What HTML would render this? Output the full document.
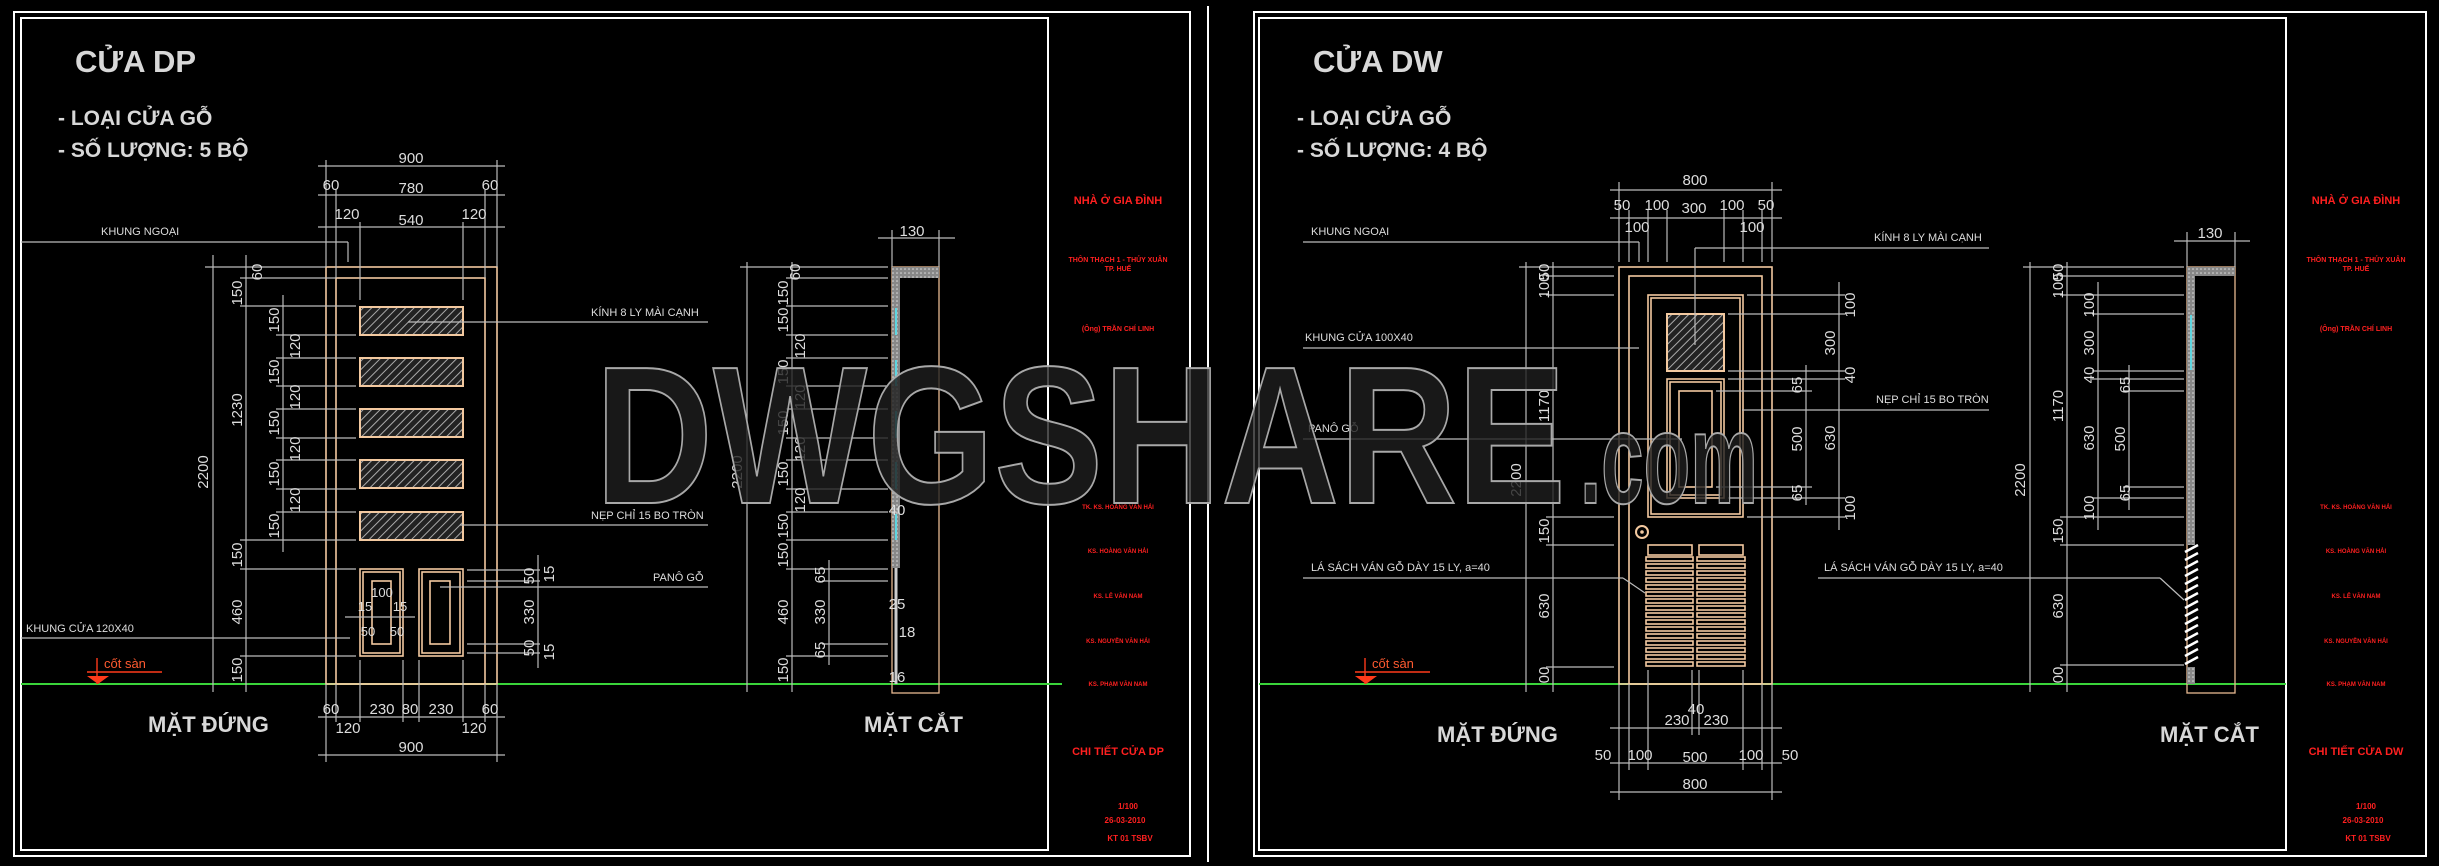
<!DOCTYPE html>
<html><head><meta charset="utf-8"><style>
html,body{margin:0;padding:0;background:#000;}
svg{display:block;}
.f{fill:none;stroke:#fff;stroke-width:2}
.d{stroke:#bbb;stroke-width:1.2;fill:none}
.w{fill:none;stroke:#f3c9a0;stroke-width:1.6}
.t{font-family:"Liberation Sans",sans-serif;fill:#ddd;font-size:15px}
.s{font-family:"Liberation Sans",sans-serif;fill:#ddd;font-size:11px}
.h{font-family:"Liberation Sans","Noto Sans CJK SC",sans-serif;fill:#d8d8d8;font-weight:bold}
.r{font-family:"Liberation Sans",sans-serif;fill:#ff2020;font-weight:bold;text-anchor:middle}
.g{stroke:#3ad43a;stroke-width:2}
</style></head><body>
<svg width="2439" height="866" viewBox="0 0 2439 866" xmlns="http://www.w3.org/2000/svg">
<defs>
<pattern id="hp" width="6" height="6" patternUnits="userSpaceOnUse" patternTransform="rotate(45)"><rect width="6" height="6" fill="#222"/><line x1="0" y1="0" x2="0" y2="6" stroke="#aaa" stroke-width="2"/></pattern>
<pattern id="sp" width="4" height="4" patternUnits="userSpaceOnUse"><rect width="4" height="4" fill="#888"/><circle cx="1" cy="1" r="0.8" fill="#ddd"/></pattern>
</defs>
<rect width="2439" height="866" fill="#000"/>
<!-- LEFT PANEL frames -->
<rect class="f" x="14" y="12" width="1176" height="844"/>
<rect class="f" x="21" y="18" width="1027" height="832" stroke-width="1.5"/>
<line class="f" x1="1208" y1="6" x2="1208" y2="862"/>
<line class="g" x1="21" y1="684" x2="1062" y2="684"/>
<text class="h" x="75" y="72" font-size="31">CỬA DP</text>
<text class="h" x="58" y="125" font-size="21">- LOẠI CỬA GỖ</text>
<text class="h" x="58" y="157" font-size="21">- SỐ LƯỢNG: 5 BỘ</text>
<text class="h" x="148" y="732" font-size="22">MẶT ĐỨNG</text>
<text class="h" x="864" y="732" font-size="22">MẶT CẮT</text>
<!-- door DP -->
<rect class="w" x="326" y="267" width="171" height="417"/>
<rect class="w" x="336" y="278" width="149" height="406"/>
<g>
<rect x="360" y="307" width="103" height="28" fill="url(#hp)" stroke="#f3c9a0" stroke-width="2"/>
<rect x="360" y="358" width="103" height="28" fill="url(#hp)" stroke="#f3c9a0" stroke-width="2"/>
<rect x="360" y="409" width="103" height="28" fill="url(#hp)" stroke="#f3c9a0" stroke-width="2"/>
<rect x="360" y="460" width="103" height="28" fill="url(#hp)" stroke="#f3c9a0" stroke-width="2"/>
<rect x="360" y="512" width="103" height="28" fill="url(#hp)" stroke="#f3c9a0" stroke-width="2"/>
</g>
<rect class="w" x="360" y="569" width="43" height="87"/><rect class="w" x="363" y="572" width="37" height="81"/><rect class="w" x="372" y="581" width="19" height="63"/>
<rect class="w" x="419" y="569" width="44" height="87"/><rect class="w" x="422" y="572" width="38" height="81"/><rect class="w" x="430" y="581" width="20" height="63"/>
<!-- top dims DP -->
<g class="d">
<line x1="318" y1="166" x2="505" y2="166"/><line x1="318" y1="195" x2="505" y2="195"/><line x1="318" y1="227" x2="505" y2="227"/>
<line x1="326" y1="160" x2="326" y2="267"/><line x1="497" y1="160" x2="497" y2="267"/>
<line x1="336" y1="190" x2="336" y2="278"/><line x1="485" y1="190" x2="485" y2="278"/>
<line x1="360" y1="222" x2="360" y2="300"/><line x1="463" y1="222" x2="463" y2="300"/>
<line x1="318" y1="717" x2="505" y2="717"/><line x1="318" y1="755" x2="505" y2="755"/>
<line x1="326" y1="684" x2="326" y2="762"/><line x1="497" y1="684" x2="497" y2="762"/>
<line x1="336" y1="684" x2="336" y2="722"/><line x1="485" y1="684" x2="485" y2="722"/>
<line x1="360" y1="660" x2="360" y2="722"/><line x1="403" y1="660" x2="403" y2="722"/><line x1="419" y1="660" x2="419" y2="722"/><line x1="463" y1="660" x2="463" y2="722"/>
<line x1="213" y1="255" x2="213" y2="692"/><line x1="246" y1="255" x2="246" y2="692"/><line x1="283" y1="295" x2="283" y2="552"/>
<line x1="205" y1="267" x2="326" y2="267"/><line x1="240" y1="278" x2="336" y2="278"/>
<line x1="240" y1="306" x2="356" y2="306"/><line x1="276" y1="335" x2="356" y2="335"/><line x1="276" y1="358" x2="356" y2="358"/><line x1="276" y1="386" x2="356" y2="386"/><line x1="276" y1="409" x2="356" y2="409"/><line x1="276" y1="438" x2="356" y2="438"/><line x1="276" y1="460" x2="356" y2="460"/><line x1="276" y1="489" x2="356" y2="489"/><line x1="276" y1="512" x2="356" y2="512"/><line x1="240" y1="540" x2="356" y2="540"/>
<line x1="240" y1="569" x2="356" y2="569"/><line x1="240" y1="656" x2="356" y2="656"/>
<line x1="21" y1="242" x2="348" y2="242"/><line x1="348" y1="242" x2="348" y2="262"/>
<line x1="21" y1="638" x2="350" y2="638"/>
<line x1="408" y1="322" x2="708" y2="322"/>
<line x1="460" y1="525" x2="708" y2="525"/>
<line x1="440" y1="587" x2="708" y2="587"/>
<line x1="467" y1="570" x2="540" y2="570"/><line x1="467" y1="581" x2="540" y2="581"/><line x1="467" y1="644" x2="540" y2="644"/><line x1="467" y1="653" x2="540" y2="653"/>
<line x1="538" y1="555" x2="538" y2="668"/>
<line x1="345" y1="617" x2="415" y2="617"/>
</g>
<g class="t" text-anchor="middle">
<text x="411" y="163">900</text><text x="331" y="190">60</text><text x="411" y="193">780</text><text x="490" y="190">60</text>
<text x="347" y="219">120</text><text x="411" y="225">540</text><text x="474" y="219">120</text>
<text x="331" y="714">60</text><text x="382" y="714">230</text><text x="410" y="714">80</text><text x="441" y="714">230</text><text x="490" y="714">60</text>
<text x="348" y="733">120</text><text x="474" y="733">120</text><text x="411" y="752">900</text>
<text x="382" y="597" font-size="13">100</text><text x="365" y="611" font-size="13">15</text><text x="400" y="611" font-size="13">15</text><text x="368" y="636" font-size="13">50</text><text x="397" y="636" font-size="13">50</text>
</g>
<g class="t" text-anchor="middle">
<text transform="translate(208,472) rotate(-90)">2200</text>
<text transform="translate(242,410) rotate(-90)">1230</text>
<text transform="translate(242,293) rotate(-90)">150</text><text transform="translate(262,272) rotate(-90)">60</text>
<text transform="translate(242,555) rotate(-90)">150</text><text transform="translate(242,612) rotate(-90)">460</text><text transform="translate(242,670) rotate(-90)">150</text>
<text transform="translate(279,320) rotate(-90)">150</text><text transform="translate(300,346) rotate(-90)">120</text>
<text transform="translate(279,372) rotate(-90)">150</text><text transform="translate(300,397) rotate(-90)">120</text>
<text transform="translate(279,423) rotate(-90)">150</text><text transform="translate(300,449) rotate(-90)">120</text>
<text transform="translate(279,474) rotate(-90)">150</text><text transform="translate(300,500) rotate(-90)">120</text>
<text transform="translate(279,526) rotate(-90)">150</text>
<text transform="translate(534,576) rotate(-90)">50</text><text transform="translate(554,574) rotate(-90)">15</text>
<text transform="translate(534,612) rotate(-90)">330</text>
<text transform="translate(534,648) rotate(-90)">50</text><text transform="translate(554,652) rotate(-90)">15</text>
</g>
<g class="s">
<text x="101" y="235">KHUNG NGOẠI</text><text x="26" y="632">KHUNG CỬA 120X40</text>
<text x="591" y="316">KÍNH 8 LY MÀI CẠNH</text><text x="591" y="519">NẸP CHỈ 15 BO TRÒN</text><text x="653" y="581">PANÔ GỖ</text>
</g>
<g stroke="#ff3a1a" fill="none" stroke-width="1.4"><line x1="87" y1="672" x2="162" y2="672"/><line x1="97" y1="658" x2="97" y2="684"/></g>
<polygon points="87,676 109,676 98,684" fill="#ff3a1a"/>
<text x="104" y="668" font-family="Liberation Sans,sans-serif" font-size="13" fill="#ff5a30">cốt sàn</text>
<rect x="892" y="267" width="47" height="426" fill="none" stroke="#e8b890" stroke-width="1.3"/>
<rect x="892" y="267" width="47" height="11" fill="url(#sp)"/>
<rect x="892" y="278" width="8" height="290" fill="url(#sp)"/>
<g stroke="#5fd6e0" stroke-width="2"><line x1="896" y1="308" x2="896" y2="335"/><line x1="896" y1="360" x2="896" y2="386"/><line x1="896" y1="411" x2="896" y2="438"/><line x1="896" y1="462" x2="896" y2="489"/><line x1="896" y1="514" x2="896" y2="540"/></g>
<line x1="896" y1="568" x2="896" y2="684" stroke="#ccc" stroke-width="3"/>
<g class="d">
<line x1="878" y1="238" x2="955" y2="238"/><line x1="892" y1="230" x2="892" y2="267"/><line x1="939" y1="230" x2="939" y2="267"/>
<line x1="747" y1="262" x2="747" y2="692"/><line x1="792" y1="262" x2="792" y2="692"/><line x1="829" y1="560" x2="829" y2="665"/>
<line x1="740" y1="267" x2="888" y2="267"/><line x1="786" y1="278" x2="888" y2="278"/><line x1="786" y1="306" x2="888" y2="306"/><line x1="786" y1="335" x2="888" y2="335"/><line x1="786" y1="358" x2="888" y2="358"/><line x1="786" y1="386" x2="888" y2="386"/><line x1="786" y1="409" x2="888" y2="409"/><line x1="786" y1="438" x2="888" y2="438"/><line x1="786" y1="460" x2="888" y2="460"/><line x1="786" y1="489" x2="888" y2="489"/><line x1="786" y1="512" x2="888" y2="512"/><line x1="786" y1="540" x2="888" y2="540"/><line x1="786" y1="569" x2="888" y2="569"/><line x1="786" y1="656" x2="888" y2="656"/>
<line x1="822" y1="581" x2="888" y2="581"/><line x1="822" y1="644" x2="888" y2="644"/>
</g>
<g class="t" text-anchor="middle">
<text x="912" y="236">130</text>
<text transform="translate(742,472) rotate(-90)">2200</text>
<text transform="translate(800,272) rotate(-90)">60</text><text transform="translate(788,293) rotate(-90)">150</text><text transform="translate(788,320) rotate(-90)">150</text><text transform="translate(805,346) rotate(-90)">120</text>
<text transform="translate(788,372) rotate(-90)">150</text><text transform="translate(805,397) rotate(-90)">120</text><text transform="translate(788,423) rotate(-90)">150</text><text transform="translate(805,449) rotate(-90)">120</text>
<text transform="translate(788,474) rotate(-90)">150</text><text transform="translate(805,500) rotate(-90)">120</text><text transform="translate(788,526) rotate(-90)">150</text><text transform="translate(788,555) rotate(-90)">150</text>
<text transform="translate(788,612) rotate(-90)">460</text><text transform="translate(788,670) rotate(-90)">150</text>
<text transform="translate(825,575) rotate(-90)">65</text><text transform="translate(825,612) rotate(-90)">330</text><text transform="translate(825,650) rotate(-90)">65</text>
<text x="897" y="515">40</text><text x="897" y="609">25</text><text x="907" y="637">18</text><text x="897" y="682">16</text>
</g>
<g class="r">
<text x="1118" y="204" font-size="11">NHÀ Ở GIA ĐÌNH</text>
<text x="1118" y="262" font-size="7">THÔN THẠCH 1 - THỦY XUÂN</text><text x="1118" y="271" font-size="7">TP. HUẾ</text>
<text x="1118" y="331" font-size="7">(Ông) TRẦN CHÍ LINH</text>
<text x="1118" y="509" font-size="6">TK. KS. HOÀNG VĂN HẢI</text><text x="1118" y="553" font-size="6">KS. HOÀNG VĂN HẢI</text>
<text x="1118" y="598" font-size="6">KS. LÊ VĂN NAM</text><text x="1118" y="643" font-size="6">KS. NGUYỄN VĂN HẢI</text><text x="1118" y="686" font-size="6">KS. PHẠM VĂN NAM</text>
<text x="1118" y="755" font-size="11">CHI TIẾT CỬA DP</text>
<text x="1128" y="809" font-size="8">1/100</text><text x="1125" y="823" font-size="8">26-03-2010</text><text x="1130" y="841" font-size="8">KT   01   TSBV</text>
</g>

<!-- RIGHT PANEL -->
<rect class="f" x="1254" y="12" width="1172" height="844"/>
<rect class="f" x="1259" y="18" width="1027" height="832" stroke-width="1.5"/>
<line class="g" x1="1259" y1="684" x2="2286" y2="684"/>
<text class="h" x="1313" y="72" font-size="31">CỬA DW</text>
<text class="h" x="1297" y="125" font-size="21">- LOẠI CỬA GỖ</text>
<text class="h" x="1297" y="157" font-size="21">- SỐ LƯỢNG: 4 BỘ</text>
<text class="h" x="1437" y="742" font-size="22">MẶT ĐỨNG</text>
<text class="h" x="2160" y="742" font-size="22">MẶT CẮT</text>
<rect class="w" x="1619" y="267" width="153" height="417"/>
<rect class="w" x="1629" y="276" width="133" height="408"/>
<rect class="w" x="1648" y="295" width="95" height="222"/><rect class="w" x="1651" y="298" width="89" height="216"/>
<rect x="1667" y="314" width="57" height="57" fill="url(#hp)" stroke="#f3c9a0" stroke-width="2"/>
<rect class="w" x="1667" y="379" width="57" height="119"/><rect class="w" x="1670" y="382" width="51" height="113"/><rect class="w" x="1679" y="391" width="33" height="96"/>
<circle cx="1642" cy="532" r="6" fill="none" stroke="#f3c9a0" stroke-width="2"/><circle cx="1642" cy="532" r="1.8" fill="#f3c9a0"/>
<rect class="w" x="1648" y="545" width="44" height="10"/><rect class="w" x="1699" y="545" width="44" height="10"/>
<g fill="none" stroke="#f3c9a0" stroke-width="1.6">
<rect x="1646" y="557" width="47" height="4"/><rect x="1697" y="557" width="48" height="4"/>
<rect x="1646" y="564" width="47" height="4"/><rect x="1697" y="564" width="48" height="4"/>
<rect x="1646" y="571" width="47" height="4"/><rect x="1697" y="571" width="48" height="4"/>
<rect x="1646" y="578" width="47" height="4"/><rect x="1697" y="578" width="48" height="4"/>
<rect x="1646" y="585" width="47" height="4"/><rect x="1697" y="585" width="48" height="4"/>
<rect x="1646" y="592" width="47" height="4"/><rect x="1697" y="592" width="48" height="4"/>
<rect x="1646" y="599" width="47" height="4"/><rect x="1697" y="599" width="48" height="4"/>
<rect x="1646" y="606" width="47" height="4"/><rect x="1697" y="606" width="48" height="4"/>
<rect x="1646" y="613" width="47" height="4"/><rect x="1697" y="613" width="48" height="4"/>
<rect x="1646" y="620" width="47" height="4"/><rect x="1697" y="620" width="48" height="4"/>
<rect x="1646" y="627" width="47" height="4"/><rect x="1697" y="627" width="48" height="4"/>
<rect x="1646" y="634" width="47" height="4"/><rect x="1697" y="634" width="48" height="4"/>
<rect x="1646" y="641" width="47" height="4"/><rect x="1697" y="641" width="48" height="4"/>
<rect x="1646" y="648" width="47" height="4"/><rect x="1697" y="648" width="48" height="4"/>
<rect x="1646" y="655" width="47" height="4"/><rect x="1697" y="655" width="48" height="4"/>
<rect x="1646" y="662" width="47" height="4"/><rect x="1697" y="662" width="48" height="4"/>
</g>
<g class="d">
<line x1="1610" y1="190" x2="1782" y2="190"/><line x1="1610" y1="218" x2="1782" y2="218"/>
<line x1="1619" y1="182" x2="1619" y2="262"/><line x1="1629" y1="210" x2="1629" y2="262"/><line x1="1648" y1="210" x2="1648" y2="262"/><line x1="1667" y1="210" x2="1667" y2="262"/><line x1="1724" y1="210" x2="1724" y2="262"/><line x1="1743" y1="210" x2="1743" y2="262"/><line x1="1762" y1="210" x2="1762" y2="262"/><line x1="1772" y1="182" x2="1772" y2="262"/>
<line x1="1610" y1="728" x2="1782" y2="728"/><line x1="1610" y1="763" x2="1782" y2="763"/><line x1="1610" y1="792" x2="1782" y2="792"/>
<line x1="1619" y1="684" x2="1619" y2="800"/><line x1="1772" y1="684" x2="1772" y2="800"/><line x1="1629" y1="684" x2="1629" y2="770"/><line x1="1762" y1="684" x2="1762" y2="770"/>
<line x1="1648" y1="670" x2="1648" y2="770"/><line x1="1743" y1="670" x2="1743" y2="770"/><line x1="1692" y1="670" x2="1692" y2="735"/><line x1="1699" y1="670" x2="1699" y2="735"/>
<line x1="1526" y1="262" x2="1526" y2="692"/><line x1="1553" y1="262" x2="1553" y2="692"/>
<line x1="1519" y1="267" x2="1614" y2="267"/><line x1="1546" y1="276" x2="1614" y2="276"/><line x1="1546" y1="295" x2="1614" y2="295"/><line x1="1546" y1="517" x2="1614" y2="517"/><line x1="1546" y1="545" x2="1614" y2="545"/><line x1="1546" y1="667" x2="1614" y2="667"/>
<line x1="1839" y1="282" x2="1839" y2="530"/><line x1="1806" y1="365" x2="1806" y2="505"/>
<line x1="1747" y1="295" x2="1845" y2="295"/><line x1="1728" y1="314" x2="1845" y2="314"/><line x1="1728" y1="371" x2="1845" y2="371"/><line x1="1728" y1="379" x2="1845" y2="379"/><line x1="1716" y1="391" x2="1812" y2="391"/><line x1="1716" y1="487" x2="1812" y2="487"/><line x1="1728" y1="498" x2="1845" y2="498"/><line x1="1747" y1="517" x2="1845" y2="517"/>
<line x1="1303" y1="242" x2="1639" y2="242"/><line x1="1639" y1="242" x2="1639" y2="262"/>
<line x1="1303" y1="348" x2="1639" y2="348"/>
<line x1="1303" y1="439" x2="1682" y2="439"/>
<line x1="1303" y1="578" x2="1623" y2="578"/><line x1="1623" y1="578" x2="1645" y2="593"/>
<line x1="1695" y1="248" x2="1989" y2="248"/><line x1="1695" y1="248" x2="1695" y2="345"/>
<line x1="1742" y1="410" x2="1989" y2="410"/>
</g>
<g class="t" text-anchor="middle">
<text x="1695" y="185">800</text><text x="1622" y="210">50</text><text x="1657" y="210">100</text><text x="1694" y="213">300</text><text x="1732" y="210">100</text><text x="1766" y="210">50</text>
<text x="1637" y="232">100</text><text x="1752" y="232">100</text>
<text x="1677" y="725">230</text><text x="1696" y="714">40</text><text x="1716" y="725">230</text>
<text x="1603" y="760">50</text><text x="1640" y="760">100</text><text x="1695" y="762">500</text><text x="1751" y="760">100</text><text x="1790" y="760">50</text>
<text x="1695" y="789">800</text>
<text transform="translate(1521,480) rotate(-90)">2200</text>
<text transform="translate(1549,272) rotate(-90)">50</text><text transform="translate(1549,286) rotate(-90)">100</text><text transform="translate(1549,406) rotate(-90)">1170</text>
<text transform="translate(1549,531) rotate(-90)">150</text><text transform="translate(1549,606) rotate(-90)">630</text><text transform="translate(1549,675) rotate(-90)">00</text>
<text transform="translate(1855,305) rotate(-90)">100</text><text transform="translate(1835,343) rotate(-90)">300</text><text transform="translate(1855,375) rotate(-90)">40</text><text transform="translate(1835,438) rotate(-90)">630</text><text transform="translate(1855,508) rotate(-90)">100</text>
<text transform="translate(1802,385) rotate(-90)">65</text><text transform="translate(1802,439) rotate(-90)">500</text><text transform="translate(1802,493) rotate(-90)">65</text>
</g>
<g class="s">
<text x="1311" y="235">KHUNG NGOẠI</text><text x="1305" y="341">KHUNG CỬA 100X40</text><text x="1308" y="432">PANÔ GỖ</text>
<text x="1311" y="571">LÁ SÁCH VÁN GỖ DÀY 15 LY, a=40</text>
<text x="1874" y="241">KÍNH 8 LY MÀI CẠNH</text><text x="1876" y="403">NẸP CHỈ 15 BO TRÒN</text>
<text x="1824" y="571">LÁ SÁCH VÁN GỖ DÀY 15 LY, a=40</text>
</g>
<g stroke="#ff3a1a" fill="none" stroke-width="1.4"><line x1="1355" y1="672" x2="1430" y2="672"/><line x1="1365" y1="658" x2="1365" y2="684"/></g>
<polygon points="1355,676 1377,676 1366,684" fill="#ff3a1a"/>
<text x="1372" y="668" font-family="Liberation Sans,sans-serif" font-size="13" fill="#ff5a30">cốt sàn</text>
<rect x="2187" y="267" width="48" height="426" fill="none" stroke="#e8b890" stroke-width="1.3"/>
<rect x="2187" y="267" width="48" height="9" fill="url(#sp)"/>
<rect x="2187" y="276" width="8" height="269" fill="url(#sp)"/>
<line x1="2191" y1="315" x2="2191" y2="370" stroke="#5fd6e0" stroke-width="2"/>
<g stroke="#fff" stroke-width="2.5"><line x1="2185" y1="552" x2="2198" y2="545"/><line x1="2185" y1="560" x2="2198" y2="553"/><line x1="2185" y1="568" x2="2198" y2="561"/><line x1="2185" y1="576" x2="2198" y2="569"/><line x1="2185" y1="584" x2="2198" y2="577"/><line x1="2185" y1="592" x2="2198" y2="585"/><line x1="2185" y1="600" x2="2198" y2="593"/><line x1="2185" y1="608" x2="2198" y2="601"/><line x1="2185" y1="616" x2="2198" y2="609"/><line x1="2185" y1="624" x2="2198" y2="617"/><line x1="2185" y1="632" x2="2198" y2="625"/><line x1="2185" y1="640" x2="2198" y2="633"/><line x1="2185" y1="648" x2="2198" y2="641"/><line x1="2185" y1="656" x2="2198" y2="649"/><line x1="2185" y1="664" x2="2198" y2="657"/></g>
<rect x="2187" y="667" width="8" height="17" fill="url(#sp)"/>
<g class="d">
<line x1="2174" y1="241" x2="2250" y2="241"/><line x1="2187" y1="232" x2="2187" y2="267"/><line x1="2235" y1="232" x2="2235" y2="267"/>
<line x1="2030" y1="262" x2="2030" y2="692"/><line x1="2067" y1="262" x2="2067" y2="692"/><line x1="2098" y1="282" x2="2098" y2="530"/><line x1="2129" y1="365" x2="2129" y2="510"/>
<line x1="2023" y1="267" x2="2184" y2="267"/><line x1="2060" y1="276" x2="2184" y2="276"/><line x1="2060" y1="295" x2="2184" y2="295"/><line x1="2092" y1="314" x2="2184" y2="314"/><line x1="2092" y1="371" x2="2184" y2="371"/><line x1="2092" y1="379" x2="2184" y2="379"/><line x1="2123" y1="391" x2="2184" y2="391"/><line x1="2123" y1="487" x2="2184" y2="487"/><line x1="2092" y1="498" x2="2184" y2="498"/><line x1="2060" y1="517" x2="2184" y2="517"/><line x1="2060" y1="545" x2="2184" y2="545"/><line x1="2060" y1="665" x2="2184" y2="665"/>
<line x1="1818" y1="578" x2="2160" y2="578"/><line x1="2160" y1="578" x2="2184" y2="600"/>
</g>
<g class="t" text-anchor="middle">
<text x="2210" y="238">130</text>
<text transform="translate(2025,480) rotate(-90)">2200</text>
<text transform="translate(2063,272) rotate(-90)">50</text><text transform="translate(2063,286) rotate(-90)">100</text><text transform="translate(2063,406) rotate(-90)">1170</text>
<text transform="translate(2063,531) rotate(-90)">150</text><text transform="translate(2063,606) rotate(-90)">630</text><text transform="translate(2063,675) rotate(-90)">00</text>
<text transform="translate(2094,305) rotate(-90)">100</text><text transform="translate(2094,343) rotate(-90)">300</text><text transform="translate(2094,375) rotate(-90)">40</text><text transform="translate(2094,438) rotate(-90)">630</text><text transform="translate(2094,508) rotate(-90)">100</text>
<text transform="translate(2130,385) rotate(-90)">65</text><text transform="translate(2125,439) rotate(-90)">500</text><text transform="translate(2130,493) rotate(-90)">65</text>
</g>
<g class="r">
<text x="2356" y="204" font-size="11">NHÀ Ở GIA ĐÌNH</text>
<text x="2356" y="262" font-size="7">THÔN THẠCH 1 - THỦY XUÂN</text><text x="2356" y="271" font-size="7">TP. HUẾ</text>
<text x="2356" y="331" font-size="7">(Ông) TRẦN CHÍ LINH</text>
<text x="2356" y="509" font-size="6">TK. KS. HOÀNG VĂN HẢI</text><text x="2356" y="553" font-size="6">KS. HOÀNG VĂN HẢI</text>
<text x="2356" y="598" font-size="6">KS. LÊ VĂN NAM</text><text x="2356" y="643" font-size="6">KS. NGUYỄN VĂN HẢI</text><text x="2356" y="686" font-size="6">KS. PHẠM VĂN NAM</text>
<text x="2356" y="755" font-size="11">CHI TIẾT CỬA DW</text>
<text x="2366" y="809" font-size="8">1/100</text><text x="2363" y="823" font-size="8">26-03-2010</text><text x="2368" y="841" font-size="8">KT   01   TSBV</text>
</g>
<!-- watermark -->
<g font-family="Liberation Sans,sans-serif" font-weight="bold" fill="rgba(30,30,30,0.8)" stroke="#a8a8a8" stroke-width="2">
<text x="595" y="503" font-size="196" textLength="971" lengthAdjust="spacingAndGlyphs">DWGSHARE</text>
<text x="1580" y="503" font-size="130" textLength="178" lengthAdjust="spacingAndGlyphs">.com</text>
</g>
</svg>
</body></html>
